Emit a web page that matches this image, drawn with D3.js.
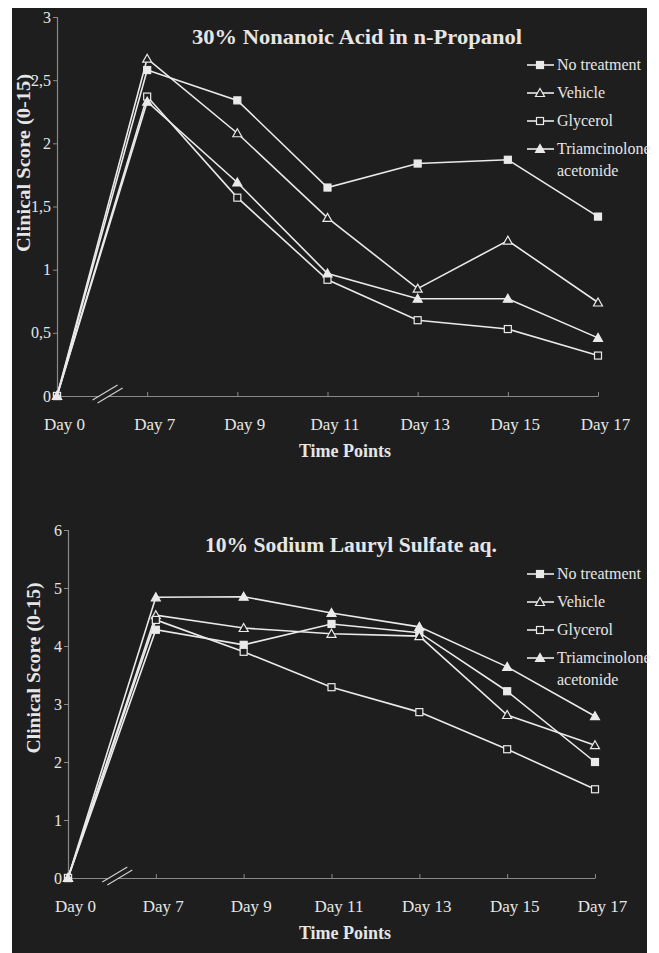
<!DOCTYPE html>
<html>
<head>
<meta charset="utf-8">
<script src="https://cdn.jsdelivr.net/npm/d3@7"></script>
<style>
  body { margin: 0; background: #fff; }
  svg text { font-family: "Liberation Serif", "DejaVu Serif", serif; fill: #e6e6e6; }
</style>
</head>
<body>
<svg id="fig" width="659" height="953"></svg>
<script>

var days = ['Day 0', 'Day 7', 'Day 9', 'Day 11', 'Day 13', 'Day 15', 'Day 17'];
var seriesNames = ['No treatment', 'Vehicle', 'Glycerol', 'Triamcinolone acetonide'];
var markers = ['sqFill', 'triOpen', 'sqOpen', 'triFill'];

// 30% Nonanoic Acid in n-Propanol
var naNoTreatment = [0, 2.58, 2.34, 1.65, 1.84, 1.87, 1.42];
var naVehicle     = [0, 2.67, 2.08, 1.41, 0.85, 1.23, 0.74];
var naGlycerol    = [0, 2.37, 1.57, 0.92, 0.60, 0.53, 0.32];
var naTriamc      = [0, 2.33, 1.69, 0.97, 0.77, 0.77, 0.46];
var naTicks = [0, 0.5, 1, 1.5, 2, 2.5, 3];

// 10% Sodium Lauryl Sulfate aq.
var slsNoTreatment = [0, 4.28, 4.02, 4.38, 4.23, 3.22, 2.00];
var slsVehicle     = [0, 4.53, 4.31, 4.21, 4.17, 2.81, 2.29];
var slsGlycerol    = [0, 4.45, 3.90, 3.29, 2.86, 2.22, 1.53];
var slsTriamc      = [0, 4.84, 4.85, 4.57, 4.33, 3.64, 2.79];
var slsTicks = [0, 1, 2, 3, 4, 5, 6];

var bg = '#1e1e1e';
var fg = '#eaeaea';
var svg = d3.select('#fig');

svg.append('rect')
	.attr('x', 12).attr('y', 8)
	.attr('width', 635).attr('height', 945)
	.attr('fill', bg);

var drawMarker = function (g, kind, x, y) {
	if (kind === 'sqFill' || kind === 'sqOpen') {
		g.append('rect')
			.attr('x', x - 3.5).attr('y', y - 3.5)
			.attr('width', 7).attr('height', 7)
			.attr('fill', kind === 'sqFill' ? fg : bg)
			.attr('stroke', fg).attr('stroke-width', 1.2);
	} else {
		g.append('path')
			.attr('d', 'M' + x + ',' + (y - 4.5) + 'L' + (x + 4.5) + ',' + (y + 3.5) + 'L' + (x - 4.5) + ',' + (y + 3.5) + 'Z')
			.attr('fill', kind === 'triFill' ? fg : bg)
			.attr('stroke', fg).attr('stroke-width', 1.2);
	}
};

var drawChart = function (o) {
	var g = svg.append('g');

	var x = d3.scalePoint().domain(days).range([o.x0, o.x1]);
	var y = d3.scaleLinear().domain([0, o.ticks[o.ticks.length - 1]]).range([o.y0, o.y1]);

	// axes
	var yAxis = g.append('g')
		.attr('transform', 'translate(' + o.x0 + ',0)')
		.call(d3.axisLeft(y).tickValues(o.ticks).tickSize(4).tickPadding(2)
			.tickFormat(function (d) { return String(d).replace('.', ','); }));

	var xAxis = g.append('g')
		.attr('transform', 'translate(0,' + o.y0 + ')')
		.call(d3.axisBottom(x).tickSizeInner(-4).tickSizeOuter(0).tickPadding(22));

	[yAxis, xAxis].forEach(function (a) {
		a.select('.domain').attr('stroke', '#8a8a8a').attr('stroke-width', 1.2);
		a.selectAll('.tick line').attr('stroke', '#8a8a8a');
		a.selectAll('.tick text').attr('font-size', 17).attr('fill', fg)
			.style('font-family', '"Liberation Serif", serif');
	});
	yAxis.selectAll('.tick text').attr('font-size', 16);
	xAxis.selectAll('.tick text').attr('dx', 7);
	xAxis.select('.tick line').remove();

	// axis break
	var bx = x(days[0]) + 0.55 * (x(days[1]) - x(days[0]));
	g.append('path')
		.attr('d', 'M' + (bx - 12) + ',' + (o.y0 + 3) + 'L' + (bx + 9) + ',' + (o.y0 - 10) +
			'L' + (bx + 14) + ',' + (o.y0 - 7) + 'L' + (bx - 7) + ',' + (o.y0 + 6) + 'Z')
		.attr('fill', bg);
	[0, 5].forEach(function (d) {
		g.append('line')
			.attr('x1', bx - 14 + d).attr('y1', o.y0 + 4 + d * 0.6)
			.attr('x2', bx + 11 + d).attr('y2', o.y0 - 11 + d * 0.6)
			.attr('stroke', '#cfcfcf').attr('stroke-width', 1.2);
	});

	// series
	var line = d3.line()
		.x(function (d, i) { return x(days[i]); })
		.y(function (d) { return y(d); });

	o.series.forEach(function (s, k) {
		g.append('path')
			.attr('d', line(s))
			.attr('fill', 'none')
			.attr('stroke', fg)
			.attr('stroke-width', 1.6);
	});
	o.series.forEach(function (s, k) {
		s.forEach(function (v, i) {
			drawMarker(g, markers[k], x(days[i]), y(v));
		});
	});

	// titles
	g.append('text')
		.attr('x', o.titleX).attr('y', o.titleY)
		.attr('text-anchor', 'middle')
		.attr('font-size', 22).attr('font-weight', 'bold')
		.attr('textLength', o.titleLen).attr('lengthAdjust', 'spacingAndGlyphs')
		.text(o.title);

	g.append('text')
		.attr('x', 345).attr('y', o.y0 + 61)
		.attr('text-anchor', 'middle')
		.attr('font-size', 18).attr('font-weight', 'bold')
		.text('Time Points');

	g.append('text')
		.attr('transform', 'translate(' + o.ylabX + ',' + o.ylabY + ') rotate(-90)')
		.attr('text-anchor', 'middle')
		.attr('font-size', 19).attr('font-weight', 'bold')
		.attr('textLength', o.ylabLen).attr('lengthAdjust', 'spacingAndGlyphs')
		.text('Clinical Score (0-15)');

	// legend
	var legendRows = [seriesNames[0], seriesNames[1], seriesNames[2], 'Triamcinolone'];
	legendRows.forEach(function (name, k) {
		var ly = o.legY + k * 28;
		g.append('line')
			.attr('x1', 527).attr('x2', 554)
			.attr('y1', ly).attr('y2', ly)
			.attr('stroke', fg).attr('stroke-width', 1.6);
		drawMarker(g, markers[k], 540, ly);
		g.append('text')
			.attr('x', 557).attr('y', ly + 5)
			.attr('font-size', 16)
			.text(name);
	});
	g.append('text')
		.attr('x', 557).attr('y', o.legY + 3 * 28 + 27)
		.attr('font-size', 16)
		.text('acetonide');
};

drawChart({
	title: '30% Nonanoic Acid in n-Propanol',
	titleX: 357, titleY: 44, titleLen: 330,
	x0: 57, x1: 598, y0: 396, y1: 17,
	ticks: naTicks,
	series: [naNoTreatment, naVehicle, naGlycerol, naTriamc],
	ylabX: 30, ylabY: 163, ylabLen: 178,
	legY: 65
});

drawChart({
	title: '10% Sodium Lauryl Sulfate aq.',
	titleX: 351, titleY: 552, titleLen: 292,
	x0: 68, x1: 595, y0: 878, y1: 530,
	ticks: slsTicks,
	series: [slsNoTreatment, slsVehicle, slsGlycerol, slsTriamc],
	ylabX: 40, ylabY: 668, ylabLen: 171,
	legY: 574
});

</script>
</body>
</html>
